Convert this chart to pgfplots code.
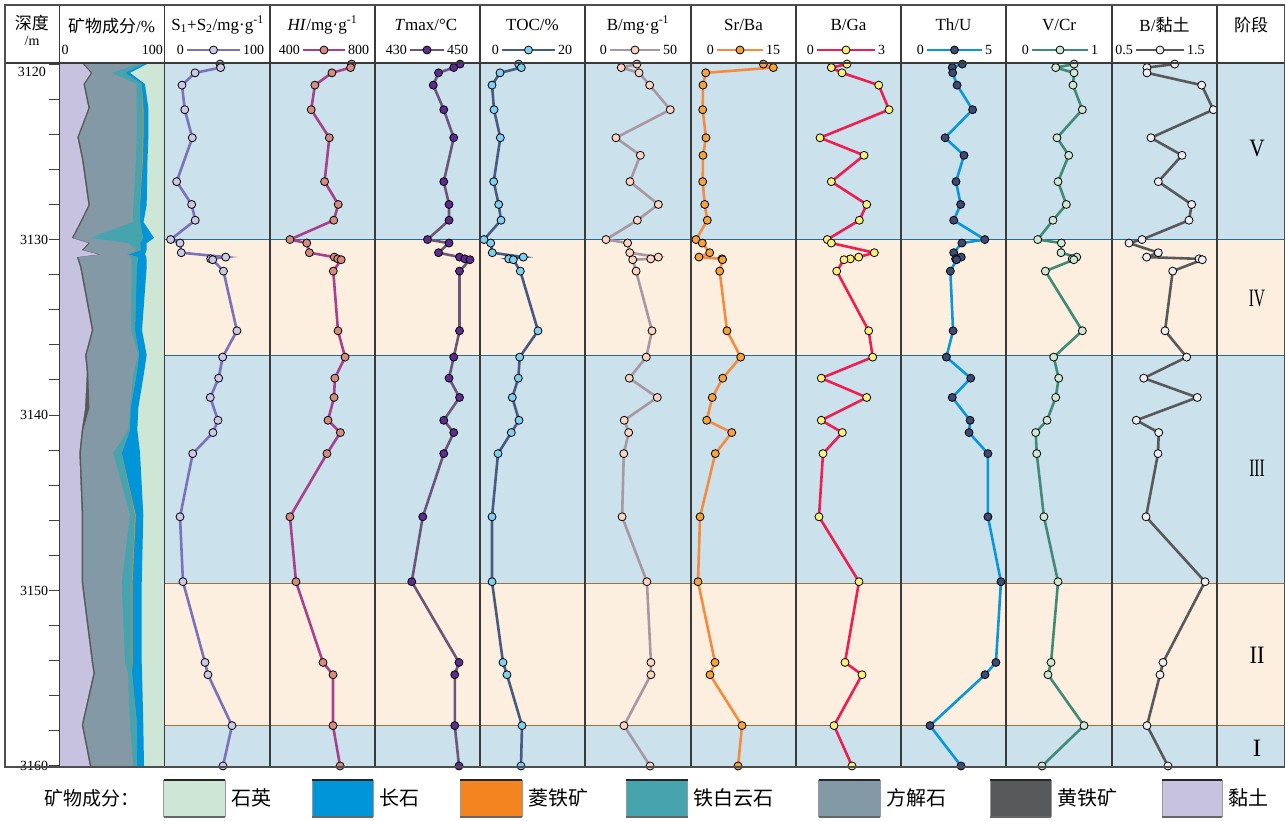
\documentclass[border=0pt]{standalone}
\usepackage{fontspec}
\setmainfont{Liberation Serif}
\newfontfamily\cjk{Noto Sans CJK SC}
\usepackage{graphicx}
\usepackage{pgfplots}
\usepackage{pgfplotstable}
\pgfplotsset{compat=1.18}

\definecolor{bandblue}{HTML}{CBE1EC}
\definecolor{bandpeach}{HTML}{FDEFDF}
\definecolor{lineblue}{HTML}{2A6A8C}
\definecolor{linebrown}{HTML}{A2703C}
\definecolor{frame}{HTML}{3A3A3A}
% minerals
\definecolor{quartz}{HTML}{CDE6D5}
\definecolor{feldspar}{HTML}{0094D9}
\definecolor{siderite}{HTML}{F3841F}
\definecolor{ankerite}{HTML}{45A4AE}
\definecolor{calcite}{HTML}{8499A6}
\definecolor{pyrite}{HTML}{58595B}
\definecolor{clay}{HTML}{C6C2E0}
% series
\definecolor{s12line}{HTML}{7B72BA}\definecolor{s12fill}{HTML}{CCC9E6}
\definecolor{hiline}{HTML}{A8418B}\definecolor{hifill}{HTML}{D58B80}
\definecolor{tmline}{HTML}{6C5677}\definecolor{tmfill}{HTML}{5E2C8F}
\definecolor{tocline}{HTML}{475A82}\definecolor{tocfill}{HTML}{7FD1F2}
\definecolor{bline}{HTML}{A898A4}\definecolor{bfill}{HTML}{FBD5C2}
\definecolor{srline}{HTML}{F58B3F}\definecolor{srfill}{HTML}{F6A33C}
\definecolor{bgaline}{HTML}{EE1D52}\definecolor{bgafill}{HTML}{FCF07C}
\definecolor{thline}{HTML}{0A97D9}\definecolor{thfill}{HTML}{3C4B74}
\definecolor{vcline}{HTML}{3F8B77}\definecolor{vcfill}{HTML}{CFE8D4}
\definecolor{bcline}{HTML}{59595B}\definecolor{bcfill}{HTML}{EEEEF2}

% organic geochemistry (depth in m)
\pgfplotstableread{
d s12 hi tmax toc
3120.0 52.4 711 446.2 7.37
3120.2 53.0 707 445.0 7.87
3120.5 28.6 636 442.1 3.81
3121.2 16.2 571 441.1 2.29
3122.6 18.8 557 443.1 2.67
3124.2 26.0 626 445.0 3.87
3126.7 11.1 608 443.1 2.61
3128.0 25.4 660 444.1 3.56
3128.9 28.8 643 444.1 4.00
3130.0 5.4 476 440.0 0.76
3130.2 14.3 540 444.1 2.04
3130.75 15.5 550 442.1 2.34
3131.0 57.8 645 446.1 8.25
3131.1 43.5 658 447.1 5.47
3131.15 45.4 671 448.1 6.34
3131.8 55.7 641 446.1 7.68
3135.2 68.5 659 446.1 11.05
3136.7 54.9 686 445.0 7.56
3137.9 51.1 647 444.1 7.30
3139.0 43.1 644 446.1 6.15
3140.3 50.5 621 443.1 7.43
3141.0 45.7 668 445.0 5.96
3142.2 26.4 617 443.1 3.43
3145.8 14.3 476 439.1 2.29
3149.5 17.1 499 437.0 2.29
3154.1 38.1 602 446.0 4.38
3154.8 40.9 640 445.2 5.14
3157.7 63.8 640 445.2 8.00
3160.0 55.2 667 446.0 7.81
}\organic

% element ratios
\pgfplotstableread{
d b srba bga thu vcr bcl
3120.0 24.5 10.33 1.457 2.92 0.642 1.097
3120.2 17.1 11.76 1.009 2.44 0.469 0.833
3120.5 25.5 2.10 1.314 2.46 0.642 0.833
3121.2 30.5 1.71 2.363 2.67 0.632 1.354
3122.6 40.2 1.67 2.657 3.41 0.720 1.465
3124.2 14.6 2.14 0.686 2.10 0.481 0.871
3125.2 26.1 1.71 1.943 3.00 0.592 1.167
3126.7 21.2 1.67 1.009 2.62 0.491 0.941
3128.0 34.6 1.96 2.020 2.84 0.569 1.259
3128.9 24.7 2.33 1.809 2.51 0.443 1.233
3130.0 9.9 0.71 0.894 3.99 0.299 0.786
3130.2 20.1 1.61 1.009 2.90 0.522 0.662
3130.75 21.1 2.67 2.237 2.51 0.519 0.941
3131.0 34.6 1.14 1.791 2.87 0.667 0.830
3131.1 31.0 4.43 1.551 2.60 0.625 1.329
3131.15 22.5 4.50 1.371 2.65 0.640 1.360
3131.8 24.1 4.10 1.163 2.35 0.371 1.078
3135.2 31.6 5.14 2.077 2.48 0.720 1.005
3136.7 28.9 7.10 2.191 2.16 0.450 1.211
3137.9 20.9 4.53 0.723 3.32 0.497 0.802
3139.0 34.1 3.04 2.020 2.44 0.469 1.312
3140.3 18.5 2.24 0.723 3.29 0.387 0.731
3141.0 20.6 5.82 1.323 3.24 0.280 0.945
3142.2 18.3 3.47 0.771 4.14 0.290 0.938
3145.8 17.5 1.29 0.657 4.14 0.358 0.824
3149.5 29.2 1.00 1.800 4.76 0.491 1.386
3154.1 31.1 3.43 1.400 4.52 0.425 0.986
3154.8 31.1 2.71 1.886 4.00 0.396 0.957
3157.7 18.4 7.29 1.086 1.38 0.736 0.833
3160.0 30.7 6.72 1.600 2.86 0.340 1.033
}\inorganic

% mineral composition, cumulative % from the left:
% c1 clay, c2 +pyrite, c3 +calcite, c4 +ankerite, c5 +siderite, c6 +feldspar (rest quartz)
\pgfplotstableread{
d c1 c2 c3 c4 c5 c6
3119.94 0 0 0 0 0 0
3119.94 21.3 22.8 76.9 81.6 81.6 85.4
3120.5 29.9 31.4 49.9 62.6 62.6 67.3
3121.14 22.9 24.4 73.7 78.5 78.5 81.6
3122.5 27.6 29.1 73.7 79.4 80.2 84.8
3124.16 17.1 18.6 73.7 79.4 80.2 84.8
3125.47 21.6 23.1 73.0 78.8 79.6 84.0
3128.03 27.6 29.1 70.5 76.9 76.9 83.2
3129.0 19.7 21.2 70.2 76.9 76.9 80.2
3129.91 11.8 13.3 29.2 79.7 79.7 90.2
3130.2 27.6 29.1 65.4 76.9 76.9 83.2
3130.6 21.3 22.8 73.7 77.8 77.8 83.2
3130.85 37.0 38.5 63.5 65.4 65.4 81.6
3131.0 16.6 18.1 69.0 75.0 75.0 83.0
3131.57 19.7 21.2 69.0 73.7 73.7 83.2
3135.16 30.9 32.4 68.3 72.1 72.1 78.8
3136.58 24.5 26.0 75.2 75.9 75.9 83.2
3137.6 26.1 27.6 70.5 73.7 73.7 80.7
3139.6 24.5 28.6 67.3 67.8 67.8 75.2
3140.85 21.3 22.8 65.7 67.3 67.3 74.3
3142.16 19.0 20.5 51.4 59.4 59.4 76.9
3145.7 21.3 22.8 67.3 72.1 72.9 80.0
3149.57 21.3 22.8 59.4 69.0 69.8 78.5
3154.13 30.9 32.4 62.6 69.0 69.8 78.5
3154.7 32.4 33.9 65.4 69.2 69.2 78.8
3157.66 21.3 22.8 67.3 74.0 74.0 80.0
3160.06 29.2 30.7 70.5 73.7 73.7 80.7
3160.06 0 0 0 0 0 0
}\minerals

\pgfplotsset{
  col/.style={scale only axis, width=#1pt, height=704pt, anchor=south west,
    y dir=reverse, ymin=3119.94, ymax=3160.06, hide axis, clip=false},
  series/.style n args={2}{line width=2.6pt, color=#1, mark=*, mark size=4pt,
    mark options={fill=#2, draw=black, line width=0.8pt}},
}

% scale key in the header: x start, x end, low, high, line colour, mark fill
\newcommand{\skey}[6]{%
  \draw[#5, line width=2.4pt] (#1pt,-50pt) -- (#2pt,-50pt)
    node[midway, circle, fill=#6, draw=black, line width=0.8pt, inner sep=0pt, minimum size=8pt] {};
  \node[anchor=east, inner sep=0pt, font=\fontsize{14}{14}\selectfont] at (#1pt-3pt,-50pt) {#3};
  \node[anchor=west, inner sep=0pt, font=\fontsize{14}{14}\selectfont] at (#2pt+3pt,-50pt) {#4};}

% legend box: x left, x right, colour, label
\newcommand{\lbox}[4]{%
  \fill[#3] (#1pt,-780pt) rectangle (#2pt,-817pt);
  \draw[black!40, line width=0.5pt] (#1pt,-780pt) -- (#1pt,-817pt) (#2pt,-780pt) -- (#2pt,-817pt);
  \draw[black!85, line width=1.5pt] (#1pt,-780pt) -- (#2pt,-780pt);
  \draw[black!60, line width=1.2pt] (#1pt,-817pt) -- (#2pt,-817pt);
  \node[anchor=west, inner sep=0pt, font=\cjk\fontsize{20}{20}\selectfont] at (#2pt+6pt,-798pt) {#4};}

\begin{document}
\begin{tikzpicture}
\useasboundingbox (0pt,0pt) rectangle (1286pt,-820pt);

% stage bands
\begin{axis}[col=1120, at={(165pt,-767pt)}, xmin=0, xmax=1]
  \addplot[fill=bandblue, draw=none] coordinates {(0,3119.94) (1,3119.94) (1,3130.0) (0,3130.0)};
  \addplot[fill=bandpeach, draw=none] coordinates {(0,3130.0) (1,3130.0) (1,3136.6) (0,3136.6)};
  \addplot[fill=bandblue, draw=none] coordinates {(0,3136.6) (1,3136.6) (1,3149.6) (0,3149.6)};
  \addplot[fill=bandpeach, draw=none] coordinates {(0,3149.6) (1,3149.6) (1,3157.7) (0,3157.7)};
  \addplot[fill=bandblue, draw=none] coordinates {(0,3157.7) (1,3157.7) (1,3160.06) (0,3160.06)};
  \addplot[lineblue, line width=1.6pt] coordinates {(0,3130.0) (1,3130.0)};
  \addplot[lineblue, line width=1.6pt] coordinates {(0,3136.6) (1,3136.6)};
  \addplot[linebrown, line width=1.6pt] coordinates {(0,3149.6) (1,3149.6)};
  \addplot[linebrown, line width=1.6pt] coordinates {(0,3157.7) (1,3157.7)};
\end{axis}

% mineral composition column with depth ticks
\begin{axis}[scale only axis, width=105pt, height=704pt, anchor=south west, at={(59.3pt,-767pt)},
  y dir=reverse, ymin=3119.94, ymax=3160.06, xmin=0, xmax=100,
  xtick=\empty, ytick={3120,3130,3140,3150,3160}, yticklabels={,3130,3140,3150,3160},
  minor ytick={3122,3124,...,3158}, ytick pos=left, tick align=outside,
  major tick length=10pt, minor tick length=10pt,
  every tick/.style={black!75, line width=1pt},
  yticklabel style={font=\fontsize{14}{14}\selectfont, inner sep=1pt},
  axis line style={draw=none}]
  \addplot[fill=quartz, draw=none] coordinates {(0,3119.94) (100,3119.94) (100,3160.06) (0,3160.06)};
  \addplot[fill=feldspar, draw=none] table[x=c6, y=d] {\minerals};
  \addplot[fill=siderite, draw=none] table[x=c5, y=d] {\minerals};
  \addplot[fill=ankerite, draw=none] table[x=c4, y=d] {\minerals};
  \addplot[fill=calcite, draw=none] table[x=c3, y=d] {\minerals};
  \addplot[fill=pyrite, draw=none] table[x=c2, y=d] {\minerals};
  \addplot[fill=clay, draw=none] table[x=c1, y=d] {\minerals};
\end{axis}

% profiles
\begin{axis}[col=105, at={(165pt,-767pt)}, xmin=0, xmax=100]
  \addplot[series={s12line}{s12fill}] table[x=s12, y=d] {\organic};
\end{axis}
\begin{axis}[col=105, at={(270pt,-767pt)}, xmin=400, xmax=800]
  \addplot[series={hiline}{hifill}] table[x=hi, y=d] {\organic};
\end{axis}
\begin{axis}[col=105, at={(375pt,-767pt)}, xmin=430, xmax=450]
  \addplot[series={tmline}{tmfill}] table[x=tmax, y=d] {\organic};
\end{axis}
\begin{axis}[col=105, at={(480pt,-767pt)}, xmin=0, xmax=20]
  \addplot[series={tocline}{tocfill}] table[x=toc, y=d] {\organic};
\end{axis}
\begin{axis}[col=106, at={(585pt,-767pt)}, xmin=0, xmax=50]
  \addplot[series={bline}{bfill}] table[x=b, y=d] {\inorganic};
\end{axis}
\begin{axis}[col=105, at={(691pt,-767pt)}, xmin=0, xmax=15]
  \addplot[series={srline}{srfill}] table[x=srba, y=d] {\inorganic};
\end{axis}
\begin{axis}[col=105, at={(796pt,-767pt)}, xmin=0, xmax=3]
  \addplot[series={bgaline}{bgafill}] table[x=bga, y=d] {\inorganic};
\end{axis}
\begin{axis}[col=105, at={(901pt,-767pt)}, xmin=0, xmax=5]
  \addplot[series={thline}{thfill}] table[x=thu, y=d] {\inorganic};
\end{axis}
\begin{axis}[col=106, at={(1006pt,-767pt)}, xmin=0, xmax=1]
  \addplot[series={vcline}{vcfill}] table[x=vcr, y=d] {\inorganic};
\end{axis}
\begin{axis}[col=105, at={(1112pt,-767pt)}, xmin=0.5, xmax=1.5]
  \addplot[series={bcline}{bcfill}] table[x=bcl, y=d] {\inorganic};
\end{axis}

% grid of the table
\draw[frame, line width=1.2pt] (5pt,-63pt) -- (1284.5pt,-63pt);
\foreach \xx in {59.3,164.5,270,375,480,585,691,796,901,1006,1112,1217}
  \draw[frame, line width=1.2pt] (\xx pt,-5pt) -- (\xx pt,-767pt);
\draw[frame!90, line width=1.5pt] (5pt,-5pt) rectangle (1284.5pt,-767pt);

% header
\node[font=\cjk\fontsize{17}{17}\selectfont] at (32pt,-23pt) {深度};
\node[font=\fontsize{14}{14}\selectfont] at (32pt,-41pt) {/m};
\node[font=\fontsize{17}{17}\selectfont] at (111.5pt,-26pt) {{\cjk 矿物成分}/\%};
\node[anchor=west, inner sep=0pt, font=\fontsize{14}{14}\selectfont] at (61.5pt,-50pt) {0};
\node[anchor=east, inner sep=0pt, font=\fontsize{14}{14}\selectfont] at (163pt,-50pt) {100};
\node[anchor=east, inner sep=1pt, font=\fontsize{14}{14}\selectfont] at (47pt,-72pt) {3120};

\begin{scope}[every node/.style={font=\fontsize{17}{17}\selectfont}]
\node at (217.5pt,-25pt) {S\textsubscript{1}+S\textsubscript{2}/mg·g\textsuperscript{-1}};
\node at (322.5pt,-25pt) {\textit{HI}/mg·g\textsuperscript{-1}};
\node at (426pt,-25pt) {\textit{T}max/°C};
\node at (532.5pt,-25pt) {TOC/\%};
\node at (638pt,-25pt) {B/mg·g\textsuperscript{-1}};
\node at (743.5pt,-25pt) {Sr/Ba};
\node at (848.5pt,-25pt) {B/Ga};
\node at (953.5pt,-25pt) {Th/U};
\node at (1059pt,-25pt) {V/Cr};
\node at (1164.5pt,-25pt) {B/{\cjk 黏土}};
\node at (1251pt,-25pt) {\cjk 阶段};
\end{scope}

\skey{187}{240}{0}{100}{s12line}{s12fill}
\skey{303}{345}{400}{800}{hiline}{hifill}
\skey{410}{444}{430}{450}{tmline}{tmfill}
\skey{502}{555}{0}{20}{tocline}{tocfill}
\skey{610}{660}{0}{50}{bline}{bfill}
\skey{717}{763}{0}{15}{srline}{srfill}
\skey{817}{875}{0}{3}{bgaline}{bgafill}
\skey{927}{982}{0}{5}{thline}{thfill}
\skey{1032}{1088}{0}{1}{vcline}{vcfill}
\skey{1136}{1184}{0.5}{1.5}{bcline}{bcfill}

% stages
\begin{scope}[every node/.style={font=\fontsize{25}{25}\selectfont}]
\node at (1257pt,-148pt) {\scalebox{0.85}[1]{V}};
\node at (1257pt,-298pt) {\scalebox{0.62}[1]{IV}};
\node at (1257pt,-468pt) {\scalebox{0.62}[1]{III}};
\node at (1257pt,-655pt) {\scalebox{0.9}[1]{II}};
\node at (1257pt,-748pt) {I};
\end{scope}

% legend
\node[font=\cjk\fontsize{19}{19}\selectfont] at (92.5pt,-798pt) {矿物成分：};
\lbox{163.5}{225}{quartz}{石英}
\lbox{312}{373}{feldspar}{长石}
\lbox{460}{522}{siderite}{菱铁矿}
\lbox{626}{687.5}{ankerite}{铁白云石}
\lbox{818.5}{880}{calcite}{方解石}
\lbox{990}{1051}{pyrite}{黄铁矿}
\lbox{1162}{1222}{clay}{黏土}
\end{tikzpicture}
\end{document}
